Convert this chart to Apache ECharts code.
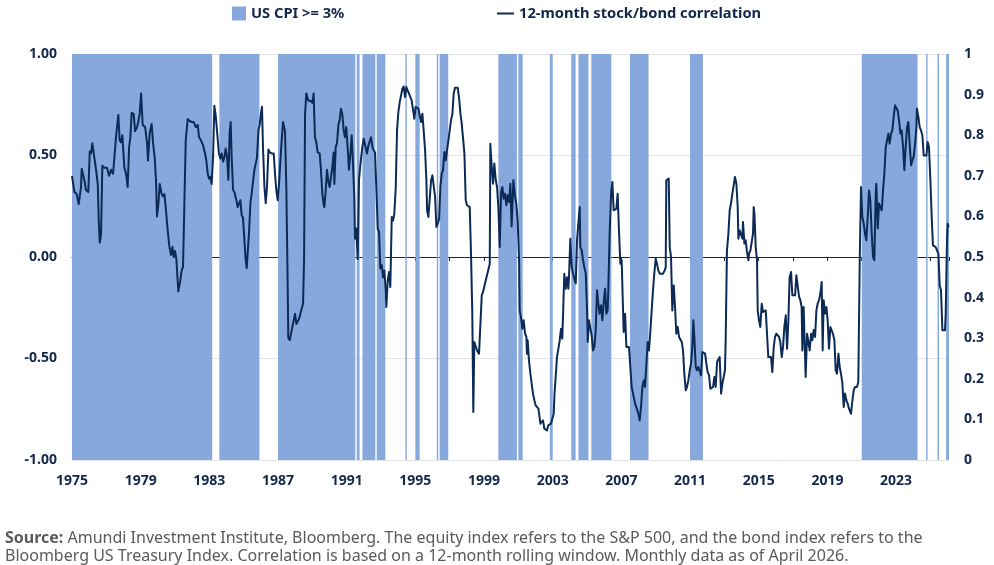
<!DOCTYPE html>
<html>
<head>
<meta http-equiv="Content-Type" content="text/html; charset=UTF-8">
<title>Stock/bond correlation</title>
<script src="https://cdn.jsdelivr.net/npm/echarts@6/dist/echarts.min.js"></script>
</head>
<body style="margin:0;background:#fff">
<div id="chart" style="width: 994px; height: 565px;"></div>
<script type="text/javascript">
    // months counted from the first observation (axis start = 1975)
    var startYear = 1975;
    var lastMonth = 613;

    // months where US CPI >= 3% : [from, to]
    var cpiFrom = [0, 103, 144, 199, 203, 213, 233, 240, 255, 257, 298, 312, 334, 349, 354, 363, 390, 432, 552, 597, 605, 611];
    var cpiTo   = [98, 131, 198, 201, 212, 219, 234, 243, 256, 263, 311, 315, 336, 352, 361, 377, 403, 441, 591, 598, 606, 613];

    // 12-month stock/bond correlation : [month, value]
    var corr = [
        [0,0.40],[1.7,0.32],[3.3,0.31],[4.7,0.26],[6.3,0.345],[6.8,0.435],[8.6,0.38],[9.8,0.33],[11.4,0.32],[12.4,0.52],
        [13.3,0.51],[14.2,0.56],[15.2,0.51],[16.8,0.43],[18,0.36],[18.7,0.18],[19.4,0.07],[20.3,0.11],[21.2,0.45],[22.6,0.44],
        [24.5,0.44],[25.9,0.40],[27.3,0.43],[28.7,0.41],[29.6,0.41],[31,0.61],[32.4,0.70],[33.3,0.575],[34.3,0.565],[35.2,0.60],
        [36.6,0.44],[37.8,0.41],[38.9,0.345],[39.9,0.54],[40.8,0.59],[41.7,0.71],[43.1,0.705],[44.1,0.62],[45.5,0.64],[46.3,0.665],
        [47.3,0.705],[48.3,0.805],[49.4,0.65],[51.1,0.64],[52.5,0.56],[53.1,0.475],[53.8,0.475],[54.3,0.61],[55.7,0.655],[56.6,0.565],
        [57.8,0.49],[58.7,0.38],[59.4,0.20],[60.4,0.26],[61.3,0.36],[62.7,0.31],[63.6,0.30],[64.6,0.31],[65.5,0.245],[66.9,0.13],
        [68.1,0.05],[69.2,0.01],[70.2,0.05],[71.1,0.0],[72,0.03],[73,-0.015],[74.3,-0.17],[75.7,-0.115],[76.7,-0.065],[77.6,-0.05],
        [78.5,0.245],[79.5,0.575],[80.9,0.68],[82.3,0.67],[83.7,0.665],[85.1,0.665],[86.5,0.64],[87.9,0.65],[88.8,0.59],[90.2,0.575],
        [91.6,0.55],[93,0.51],[93.9,0.475],[94.9,0.41],[95.8,0.385],[96.7,0.395],[97.6,0.36],[98.6,0.49],[99.5,0.745],[100.4,0.70],
        [101.6,0.705],[102.7,0.51],[103.7,0.485],[104.6,0.51],[105.6,0.47],[106.5,0.49],[107.4,0.535],[108.4,0.49],[109.3,0.38],[110.2,0.61],
        [110.9,0.665],[111.6,0.49],[112.6,0.33],[113.5,0.32],[114.9,0.28],[115.8,0.245],[116.7,0.24],[117.7,0.28],[118.6,0.205],[119.5,0.195],
        [120.5,0.19],[121.4,-0.015],[122.1,-0.055],[122.8,-0.05],[123.7,0.115],[124.7,0.265],[125.6,0.315],[126.5,0.37],[127.5,0.43],[128.4,0.46],
        [129.3,0.49],[130.3,0.625],[131.2,0.65],[132.1,0.71],[132.8,0.74],[133.5,0.54],[134.5,0.345],[135.4,0.265],[136.3,0.345],[137.3,0.53],
        [138.2,0.515],[139.6,0.51],[141,0.51],[141.9,0.41],[142.8,0.33],[143.8,0.28],[144.7,0.36],[146.1,0.525],[147.5,0.665],[148.9,0.62],
        [149.8,0.345],[150.5,0.0],[151.2,-0.40],[152.2,-0.41],[153.6,-0.36],[155,-0.31],[155.9,-0.28],[156.8,-0.33],[157.8,-0.33],[158.7,-0.305],
        [159.6,-0.28],[160.5,-0.255],[161.5,-0.23],[162.2,-0.015],[162.9,0.705],[163.8,0.805],[165.2,0.77],[166.6,0.77],[168,0.76],[168.9,0.805],
        [169.8,0.59],[170.8,0.565],[171.7,0.515],[173.1,0.51],[174,0.43],[175,0.31],[175.9,0.26],[176.4,0.245],[177.3,0.325],[178.2,0.43],
        [179.2,0.37],[180.1,0.345],[181,0.345],[182,0.445],[182.9,0.515],[183.4,0.36],[184.3,0.54],[185.2,0.56],[186.2,0.65],[187.1,0.675],
        [188,0.73],[189,0.70],[189.9,0.625],[190.8,0.59],[191.7,0.64],[192.7,0.535],[193.6,0.43],[194.6,0.51],[195.5,0.60],[196.4,0.46],
        [197.3,0.30],[197.8,0.09],[198.7,0.14],[199.7,-0.01],[200.6,0.38],[201.5,0.45],[202.9,0.54],
        [203.9,0.583],[205.1,0.59],[206.2,0.51],[207.2,0.55],[208.1,0.55],[209,0.59],[210,0.54],[210.9,0.525],[211.8,0.515],[212.7,0.345],
        [213.7,0.14],[214.6,0.125],[215.5,-0.057],[216.5,-0.04],[217.4,-0.1],[218.3,-0.066],[219.3,-0.164],[219.7,-0.246],[220.7,-0.115],[221.6,-0.074],
        [222.5,-0.148],[223.5,0.197],[224.4,0.18],[225.3,0.213],[226.3,0.345],[227.2,0.624],[228.1,0.714],[229.1,0.764],[230,0.796],[230.9,0.829],
        [231.8,0.84],[232.8,0.788],[233.7,0.837],[234.6,0.82],[235.6,0.805],[236.5,0.788],[237.4,0.772],[238.4,0.764],[239.3,0.681],[240.2,0.739],
        [241.2,0.742],[242.1,0.731],[243,0.698],[244,0.665],[244.9,0.706],[245.8,0.624],[246.8,0.525],[247.7,0.378],[248.2,0.23],[249.1,0.197],
        [250,0.197],[251,0.378],[251.9,0.402],[252.8,0.394],[253.8,0.296],[254.7,0.148],[255.6,0.164],[256.6,0.189],[257.5,0.345],[258.4,0.41],
        [259.3,0.427],[260.3,0.517],[261.2,0.476],[262.1,0.525],[263.1,0.575],[264,0.624],[264.9,0.673],[265.9,0.706],[266.8,0.805],[267.7,0.834],
        [268.7,0.837],[269.6,0.834],[270.5,0.788],[271.5,0.706],[272.4,0.657],[273.3,0.657],[274.3,0.509],[275.2,0.279],[276.1,0.255],[277.1,0.246],
        [278,0.246],[278.9,0.016],[279.8,-0.28],[280.5,-0.764],[281.2,-0.419],[282.2,-0.427],[283.1,-0.46],[284.5,-0.476],[285.4,-0.484],[286.4,-0.189],
        [287.3,-0.172],[288.2,-0.172],[289.2,-0.115],[290.1,-0.09],[291,-0.09],[292,-0.033],[292.4,0.558],[293.4,0.443],[294.3,0.361],[295.2,0.46],
        [296.2,0.378],[297.1,0.345],[298,0.246],[299,0.049],[299.9,0.32],[300.8,0.345],[301.7,0.287],[302.7,0.312],[303.6,0.255],[304.5,0.304],
        [305.5,0.27],[306.4,0.361],[307.3,0.15],
        [308.5,0.378],[309.7,0.296],[310.6,0.263],[311.5,0.18],[312.5,-0.016],[312.9,-0.263],[313.9,-0.30],[314.8,-0.353],[315.7,-0.312],[316.7,-0.378],
        [317.6,-0.394],[318,-0.476],[318.5,-0.41],[319.4,-0.509],[320.4,-0.575],[321.3,-0.624],[322.2,-0.673],[323.2,-0.706],[324.1,-0.731],[325,-0.739],
        [326,-0.747],[326.9,-0.747],[327.4,-0.821],[328.3,-0.829],[329.2,-0.805],[330.2,-0.846],[331.1,-0.854],[332,-0.854],[332.9,-0.829],[333.9,-0.821],
        [334.8,-0.821],[335.8,-0.829],[336.7,-0.772],[337.2,-0.681],[338.1,-0.673],[339,-0.493],[339.9,-0.485],[340.9,-0.41],[341.8,-0.353],[342.7,-0.402],
        [343.4,-0.246],[344.1,-0.082],[345.1,-0.156],[346,-0.1],[346.9,-0.156],[347.4,-0.1],[348.3,0.09],[349.3,-0.049],[350.2,-0.082],[351.1,-0.107],
        [352.1,-0.131],[353,0.082],[353.9,0.164],[354.9,0.246],[355.3,0.049],[356.3,0.033],[357.2,-0.016],[358.1,-0.049],[359.1,-0.082],[360,-0.255],
        [360.5,-0.419],[361.4,-0.312],[362.3,-0.32],[363.2,-0.386],[364.2,-0.46],[365.1,-0.443],[366,-0.369],[367,-0.164],[367.9,-0.23],[368.8,-0.279],
        [369.8,-0.238],[370.7,-0.312],[371.6,-0.23],[372.6,-0.156],[373.5,-0.279],[374.4,-0.263],[374.9,-0.148],[375.8,0.115],[376.8,0.312],[377.7,0.37],
        [378.6,0.23],[379.6,0.238],[380.5,0.238],[381.4,0.312],[382.4,0.115],[383.3,-0.033],[384.2,-0.016],[384.7,-0.016],[385.6,-0.369],[386.6,-0.279],
        [387.5,-0.443],[388.4,-0.452],[389.3,-0.443],[390.3,-0.443],[391.2,-0.64],[392.1,-0.64],[393.1,-0.706],[394,-0.731],[394.9,-0.722],[395.9,-0.772],
        [396.8,-0.805],[397.7,-0.739],[398.7,-0.64],[399.6,-0.608],[400.5,-0.64],[401.5,-0.525],[402.4,-0.419],[403.3,-0.46],[404.3,-0.361],[405.2,-0.263],
        [406.1,-0.164],[407,-0.082],[408,-0.008],[408.9,-0.033],[409.8,-0.066],[410.8,-0.082],
        [412,-0.09],[413.1,-0.082],[414.3,-0.066],[415,-0.049],[415.4,0.378],[416.4,0.386],[417.1,0.386],[417.8,0.049],[418.7,0.0],[419.6,-0.263],
        [420.6,-0.14],[421.5,-0.246],[422.4,-0.378],[423.4,-0.345],[424.3,-0.394],[425.2,-0.402],[426.2,-0.419],[427.1,-0.46],[428,-0.575],[429,-0.657],
        [429.9,-0.64],[430.8,-0.608],[431.8,-0.558],[432.7,-0.525],[433.6,-0.443],[434.3,-0.312],[435,-0.394],[436,-0.542],[436.9,-0.558],[437.8,-0.542],
        [438.7,-0.55],[439.7,-0.583],[440.6,-0.468],[441.5,-0.46],[442.5,-0.476],[443.4,-0.525],[444.3,-0.567],[445.3,-0.583],[446.2,-0.649],[447.1,-0.64],
        [448.1,-0.64],[449,-0.591],[449.9,-0.64],[450.9,-0.517],[451.8,-0.509],[452.7,-0.493],[453.7,-0.673],[454.6,-0.624],[455.5,-0.591],[456.4,-0.558],
        [456.9,-0.41],[457.8,0.033],[458.8,0.115],[459.7,0.23],[460.6,0.263],[461.6,0.312],[462.5,0.353],[463.4,0.394],[464.4,0.361],[465.3,0.246],
        [465.8,0.09],[466.7,0.131],[467.6,0.131],[468.6,0.09],[469,0.172],[470,0.066],[470.9,0.082],[471.8,0.025],[472.8,-0.016],[473.2,0.016],
        [474.2,0.033],[475.1,0.033],[476,0.115],[476.5,0.246],[477,0.213],[477.9,0.049],[478.8,-0.016],[479.3,-0.263],[480.2,-0.312],[481.1,-0.345],
        [482.1,-0.23],[483,-0.271],[483.9,-0.263],[484.9,-0.263],[485.8,-0.378],[486.7,-0.493],[487.7,-0.501],[488.6,-0.493],[489.5,-0.567],[490.5,-0.443],
        [491.4,-0.394],[492.3,-0.378],[493.3,-0.386],[494.2,-0.394],[495.1,-0.419],[496.1,-0.493],[497,-0.443],[497.9,-0.345],[498.9,-0.287],[499.8,-0.452],
        [500.7,-0.32],[501.6,-0.099],[502.6,-0.074],[503.5,-0.189],[504.4,-0.197],[505.4,-0.189],[506.3,-0.09],[507.2,-0.082],[508.2,-0.197],[509.1,-0.213],
        [510,-0.246],[510.5,-0.46],[511.4,-0.246],[512.4,-0.238],[512.8,-0.591],[513.8,-0.378],[514.7,-0.378],
        [515.6,-0.46],[516.6,-0.378],[517.5,-0.41],[518.4,-0.36],[519.4,-0.394],[520.3,-0.263],[521.2,-0.23],[522.1,-0.213],[523.1,-0.18],[524,-0.123],
        [524.7,-0.46],[525.4,-0.213],[526.3,-0.279],[527.3,-0.246],[528.2,-0.312],[529.1,-0.452],[530.1,-0.345],[531,-0.353],[531.9,-0.378],[532.9,-0.41],
        [533.8,-0.558],[534.7,-0.575],[535.7,-0.476],[536.6,-0.542],[537.5,-0.575],[538.5,-0.624],[539.4,-0.739],[540.3,-0.673],[541.3,-0.706],[542.2,-0.722],
        [543.1,-0.747],[544.5,-0.772],[545.5,-0.706],[546.4,-0.657],[547.3,-0.64],[548.7,-0.64],[549.6,-0.616],[550.6,-0.016],[551.5,0.345],[552.4,0.197],
        [553.4,0.164],[554.3,0.115],[555.2,0.082],[556.2,0.197],[557.1,0.328],[558,0.279],[559,0.115],[559.9,0.0],[560.8,-0.016],[561.8,0.312],
        [562.2,0.361],[563.2,0.14],[564.1,0.263],[565,0.246],[566,0.23],[566.9,0.328],[567.8,0.41],[568.8,0.542],[569.7,0.575],[570.6,0.608],
        [571.5,0.558],[572.5,0.608],[573.4,0.624],[574.3,0.69],[575.3,0.747],[576.2,0.739],[577.1,0.722],[578.1,0.673],[579,0.608],[579.9,0.624],
        [580.9,0.542],[581.8,0.427],[582.7,0.542],[583.7,0.64],[584.6,0.665],[585.5,0.558],[586.5,0.452],[587.4,0.476],[588.3,0.493],[589.3,0.558],
        [590.2,0.64],[590.6,0.731],[591.6,0.69],[592.5,0.64],[593.4,0.624],[594.4,0.599],[595.3,0.5],[596.2,0.5],[597.2,0.5],[598.1,0.567],
        [599,0.542],[600,0.378],[600.9,0.197],[601.8,0.057],[602.8,0.049],[603.7,0.049],[604.6,0.041],[605.6,0.016],[606.5,-0.14],[607.4,-0.164],
        [608.4,-0.361],[609.3,-0.361],[610.2,-0.361],[610.7,-0.279],[611.6,0.082],[612.1,0.164],[612.8,0.148]
    ];

    var navy = '#13274d';
    var cpiBlue = '#86a8dc';

    var cpiAreas = [];
    for (var i = 0; i < cpiFrom.length; i++) {
        cpiAreas.push([{ xAxis: cpiFrom[i] }, { xAxis: cpiTo[i] }]);
    }

    var labelFont = { color: navy, fontFamily: 'Noto Sans', fontWeight: 'bold', fontSize: 14 };
    var legendFont = { color: navy, fontFamily: 'Noto Sans', fontWeight: 'bold', fontSize: 14.7 };

    var myChart = echarts.init(document.getElementById('chart'));
    myChart.setOption({
        animation: false,
        backgroundColor: '#fff',
        textStyle: { fontFamily: 'Noto Sans' },
        title: {
            left: 0,
            top: 524,
            text: '{b|Source:}{r| Amundi Investment Institute, Bloomberg. The equity index refers to the S&P 500, and the bond index refers to the}\n{r|Bloomberg US Treasury Index. Correlation is based on a 12-month rolling window. Monthly data as of April 2026.}',
            textStyle: {
                rich: {
                    b: { fontFamily: 'Noto Sans', fontWeight: 'bold', fontSize: 16, color: '#5a5a5a', lineHeight: 18 },
                    r: { fontFamily: 'Noto Sans', fontWeight: 'normal', fontSize: 16, color: '#5a5a5a', lineHeight: 18 }
                }
            }
        },
        legend: [{
            left: 227,
            top: 1,
            itemWidth: 14,
            itemHeight: 14,
            itemGap: 4,
            data: [{ name: 'US CPI >= 3%', icon: 'rect' }],
            textStyle: legendFont
        }, {
            left: 492,
            top: 1,
            itemWidth: 17,
            itemHeight: 2,
            data: [{ name: '12-month stock/bond correlation', icon: 'rect' }],
            textStyle: legendFont
        }],
        grid: { left: 72, right: 45, top: 54, bottom: 105 },
        xAxis: [{
            type: 'value',
            min: 0,
            max: lastMonth,
            interval: 24,
            position: 'bottom',
            axisLine: { show: false },
            axisTick: { show: false },
            splitLine: { show: false },
            axisLabel: Object.assign({
                margin: 14,
                showMaxLabel: false,
                formatter: function (v) {
                    return v % 48 === 0 ? String(startYear + v / 12) : '';
                }
            }, labelFont)
        }, {
            type: 'value',
            min: 0,
            max: lastMonth,
            interval: 24,
            position: 'bottom',
            axisLine: { onZero: true, onZeroAxisIndex: 0, lineStyle: { color: navy, width: 1 } },
            axisTick: { show: true, length: 4, lineStyle: { color: navy } },
            axisLabel: { show: false },
            splitLine: { show: false }
        }],
        yAxis: [{
            type: 'value',
            min: -1,
            max: 1,
            interval: 0.5,
            position: 'left',
            axisLine: { show: false },
            axisTick: { show: false },
            splitLine: { show: true, lineStyle: { color: '#e4e4e4', width: 1 } },
            axisLabel: Object.assign({
                margin: 15,
                formatter: function (v) { return v.toFixed(2); }
            }, labelFont)
        }, {
            type: 'value',
            min: 0,
            max: 1,
            interval: 0.1,
            position: 'right',
            axisLine: { show: false },
            axisTick: { show: false },
            splitLine: { show: false },
            axisLabel: Object.assign({
                margin: 15,
                formatter: function (v) { return String(Math.round(v * 10) / 10); }
            }, labelFont)
        }],
        series: [{
            name: 'US CPI >= 3%',
            type: 'line',
            xAxisIndex: 0,
            yAxisIndex: 1,
            data: [],
            itemStyle: { color: cpiBlue },
            lineStyle: { color: cpiBlue },
            markArea: {
                silent: true,
                itemStyle: { color: cpiBlue, opacity: 1 },
                data: cpiAreas
            }
        }, {
            name: '12-month stock/bond correlation',
            type: 'line',
            xAxisIndex: 0,
            yAxisIndex: 0,
            z: 5,
            data: corr,
            showSymbol: false,
            symbol: 'none',
            itemStyle: { color: '#0c2a56' },
            lineStyle: { color: '#0c2a56', width: 2, join: 'round' }
        }]
    });
</script>
</body>
</html>
